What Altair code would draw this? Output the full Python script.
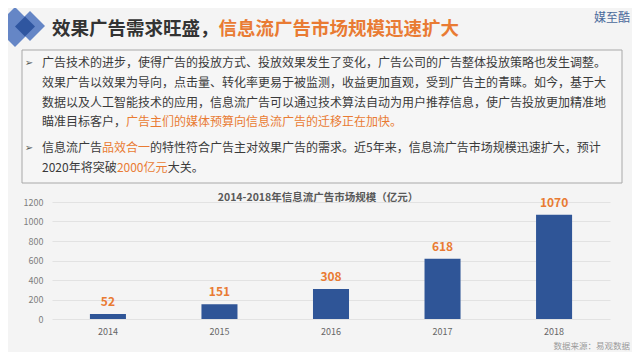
import altair as alt
import pandas as pd

# ---------------- data ----------------
years = ["2014", "2015", "2016", "2017", "2018"]
values = [52, 151, 308, 618, 1070]
y_ticks = [0, 200, 400, 600, 800, 1000, 1200]

title_dark = "效果广告需求旺盛，"
title_orange = "信息流广告市场规模迅速扩大"
brand = "媒至酷"
chart_title = "2014-2018年信息流广告市场规模（亿元）"
source = "数据来源：易观数据"

para_lines = [
    [("广告技术的进步，使得广告的投放方式、投放效果发生了变化，广告公司的广告整体投放策略也发生调整。", False)],
    [("效果广告以效果为导向，点击量、转化率更易于被监测，收益更加直观，受到广告主的青睐。如今，基于大", False)],
    [("数据以及人工智能技术的应用，信息流广告可以通过技术算法自动为用户推荐信息，使广告投放更加精准地", False)],
    [("瞄准目标客户，", False), ("广告主们的媒体预算向信息流广告的迁移正在加快。", True)],
    [("信息流广告", False), ("品效合一", True), ("的特性符合广告主对效果广告的需求。近5年来，信息流广告市场规模迅速扩大，预计", False)],
    [("2020年将突破", False), ("2000亿元", True), ("大关。", False)],
]
bullet_rows = [0, 4]

# ---------------- style ----------------
FONT = "Noto Sans CJK SC"
ORANGE = "#E97B33"
DARK = "#3A3A3A"
BAR = "#2F5597"
BG = "#F4F4F4"

df = pd.DataFrame({"year": years, "value": values})

W, H = 558, 117
PAD = {"left": 44, "top": 194, "right": 22, "bottom": 33}


def text_width(s, size):
    w = 0.0
    for c in s:
        w += size if ord(c) > 255 else size * 0.56
    return w


def label(txt, x, y, size=12, color=DARK, weight="normal", align="left", baseline="middle", font=FONT):
    return alt.Chart(pd.DataFrame({"t": [txt]})).mark_text(
        font=font, fontSize=size, color=color, fontWeight=weight,
        align=align, baseline=baseline,
    ).encode(x=alt.value(x), y=alt.value(y), text="t:N")


one = pd.DataFrame({"k": [0]})

layers = []

# diamonds
for cx, cy, sz, col in [(-37, -175, 1600, "#6586C6"), (-22, -176, 900, "#6586C6"), (-27, -175.5, 400, "#2F56A0")]:
    layers.append(
        alt.Chart(one).mark_point(shape="diamond", filled=True, size=sz, color=col, opacity=1)
        .encode(x=alt.value(cx), y=alt.value(cy))
    )

# header title
TS = 18.5
layers.append(label(title_dark, 0, -173.5, size=TS, color="#333333", weight="bold"))
layers.append(label(title_orange, text_width(title_dark, TS), -173.5, size=TS, color=ORANGE, weight="bold"))
layers.append(label(brand, 578, -184, size=12, color="#4B6A9B", align="right"))

# text box
layers.append(
    alt.Chart(one).mark_rect(fill="#F6F6F6", stroke="#A8A8A8", strokeWidth=1)
    .encode(x=alt.value(-30), x2=alt.value(570), y=alt.value(-152), y2=alt.value(-19))
)

line_y = [-139, -119, -99, -80, -54, -34]
for i, segs in enumerate(para_lines):
    x = -10
    for txt, hi in segs:
        layers.append(label(txt, x, line_y[i], size=12, color=ORANGE if hi else DARK))
        x += text_width(txt, 12)
for r in bullet_rows:
    layers.append(label("➢", -23, line_y[r], size=10, color="#555555", align="center", font="DejaVu Sans"))

# chart title
layers.append(label(chart_title, 266, -4, size=10.5, color="#595959", weight="bold", align="center"))

# bars
base = alt.Chart(df).encode(
    x=alt.X("year:N", sort=years,
            scale=alt.Scale(paddingInner=0.677, paddingOuter=0.34),
            axis=alt.Axis(title=None, labelAngle=0, domain=False, ticks=False,
                          labelFont=FONT, labelFontSize=9, labelColor="#666666", labelPadding=8)),
    y=alt.Y("value:Q", scale=alt.Scale(domain=[0, 1200], nice=False),
            axis=alt.Axis(title=None, values=y_ticks, format="d", domain=False, ticks=False,
                          labelFont=FONT, labelFontSize=9, labelColor="#7F7F7F", labelPadding=9,
                          gridColor="#E2E2E2", gridWidth=1)),
)
bars = base.mark_bar(color=BAR)
vals = base.mark_text(font=FONT, fontSize=12, fontWeight="bold", color=ORANGE, baseline="bottom", dy=-5).encode(text="value:Q")

# source
src = label(source, 578, 149, size=8.5, color="#9A9A9A", align="right", baseline="bottom")

chart = alt.layer(bars, vals, *layers, src).properties(
    width=W, height=H, padding=PAD, autosize=alt.AutoSizeParams(type="none"),
    background=BG,
).configure_view(stroke=None)

chart.save("out.html", embed_options={"renderer": "svg", "actions": False})
